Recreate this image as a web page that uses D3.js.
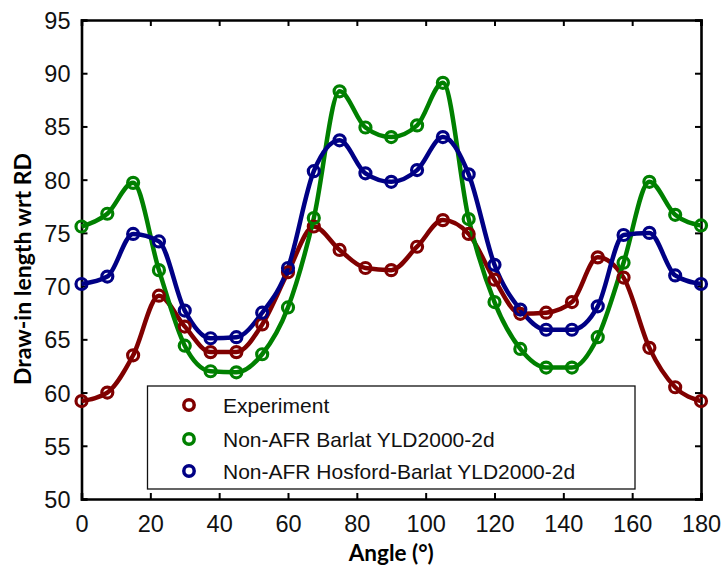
<!DOCTYPE html>
<html>
<head>
<meta charset="utf-8">
<script src="https://cdn.jsdelivr.net/npm/d3@7"></script>
<style>
  html, body { margin: 0; padding: 0; background: #fff; }
  svg { display: block; }
</style>
</head>
<body>
<svg id="chart" width="725" height="577"></svg>
<script>
// Sampling angles (degrees from rolling direction)
const angles = [0, 7.5, 15, 22.5, 30, 37.5, 45, 52.5, 60, 67.5, 75, 82.5, 90,
                97.5, 105, 112.5, 120, 127.5, 135, 142.5, 150, 157.5, 165, 172.5, 180];

const experiment = [59.2, 60.0, 63.5, 69.1, 66.2, 63.8, 63.8, 66.4, 71.3, 75.6, 73.4, 71.7, 71.5,
                    73.7, 76.2, 74.9, 70.6, 67.4, 67.5, 68.5, 72.7, 70.8, 64.2, 60.5, 59.2];
const barlat = [75.6, 76.8, 79.7, 71.5, 64.4, 62.0, 61.9, 63.6, 68.0, 76.4, 88.3, 84.9, 84.0,
                85.1, 89.1, 76.3, 68.5, 64.1, 62.35, 62.35, 65.2, 72.2, 79.8, 76.7, 75.7];
const hosford = [70.2, 70.9, 74.9, 74.2, 67.7, 65.1, 65.2, 67.5, 71.7, 80.8, 83.7, 80.6, 79.8,
                 80.9, 84.0, 80.5, 72.0, 67.8, 65.9, 65.9, 68.1, 74.8, 75.0, 71.0, 70.2];

const seriesNames = ["Experiment", "Non-AFR Barlat YLD2000-2d", "Non-AFR Hosford-Barlat YLD2000-2d"];
const seriesColors = ["#800000", "#008000", "#000085"];

const xTicks = [0, 20, 40, 60, 80, 100, 120, 140, 160, 180];
const yTicks = [50, 55, 60, 65, 70, 75, 80, 85, 90, 95];

const series = [experiment, barlat, hosford].map((vals, i) => ({
  name: seriesNames[i],
  color: seriesColors[i],
  points: angles.map((a, j) => ({ x: a, y: vals[j] }))
}));

const margin = { left: 81.5, top: 20, right: 24, bottom: 78 };
const W = 725, H = 577;
const svg = d3.select("#chart");

const x = d3.scaleLinear().domain([0, 180]).range([margin.left, W - margin.right]);
const y = d3.scaleLinear().domain([50, 95]).range([H - margin.bottom, margin.top]);

const font = "Liberation Sans, Arial, sans-serif";

// Smooth curves through the sampled points
const line = d3.line().x(d => x(d.x)).y(d => y(d.y)).curve(d3.curveMonotoneX);

const marks = svg.append("g");

series.forEach(s => {
  marks.append("path")
    .datum(s.points)
    .attr("fill", "none")
    .attr("stroke", s.color)
    .attr("stroke-width", 4.5)
    .attr("stroke-linejoin", "round")
    .attr("d", line);
});

series.forEach(s => {
  marks.append("g").selectAll("circle")
    .data(s.points)
    .join("circle")
    .attr("cx", d => x(d.x))
    .attr("cy", d => y(d.y))
    .attr("r", 5.5)
    .attr("fill", "none")
    .attr("stroke", s.color)
    .attr("stroke-width", 3.2);
});

// Axes: ticks point inward on all four sides
const tickLen = 6;
const axB = svg.append("g").attr("transform", `translate(0,${y(50)})`)
  .call(d3.axisBottom(x).tickValues(xTicks).tickSize(-tickLen).tickPadding(16));
const axT = svg.append("g").attr("transform", `translate(0,${y(95)})`)
  .call(d3.axisTop(x).tickValues(xTicks).tickSize(-tickLen).tickFormat(""));
const axL = svg.append("g").attr("transform", `translate(${x(0)},0)`)
  .call(d3.axisLeft(y).tickValues(yTicks).tickSize(-tickLen).tickPadding(11));
const axR = svg.append("g").attr("transform", `translate(${x(180)},0)`)
  .call(d3.axisRight(y).tickValues(yTicks).tickSize(-tickLen).tickFormat(""));

[axB, axT, axL, axR].forEach(g => {
  g.select(".domain").attr("stroke", "#000").attr("stroke-width", 2.6);
  g.selectAll(".tick line").attr("stroke", "#000").attr("stroke-width", 2);
  g.selectAll(".tick text").attr("fill", "#111").style("font-family", font).style("font-size", "23.5px");
});
axL.selectAll(".tick text").attr("dy", "0.36em");

// Markers stay on top of the frame at the plot edges
marks.raise();

// Axis titles
svg.append("text")
  .attr("x", (x(0) + x(180)) / 2).attr("y", 561)
  .attr("text-anchor", "middle")
  .style("font-family", "Lato, 'Open Sans', sans-serif")
  .style("font-weight", "bold")
  .style("font-size", "22.5px")
  .text("Angle (°)");

svg.append("text")
  .attr("transform", `translate(31,${269}) rotate(-90)`)
  .attr("text-anchor", "middle")
  .style("font-family", "Lato, 'Open Sans', sans-serif")
  .style("font-weight", "bold")
  .style("font-size", "23px")
  .text("Draw-in length wrt RD");

// Legend
const legend = svg.append("g");
legend.append("rect")
  .attr("x", 147.5).attr("y", 386)
  .attr("width", 487.5).attr("height", 103)
  .attr("fill", "#fff").attr("stroke", "#111").attr("stroke-width", 1.3);

const legendRowY = [405, 439, 471];
series.forEach((s, i) => {
  legend.append("circle")
    .attr("cx", 189).attr("cy", legendRowY[i]).attr("r", 5.2)
    .attr("fill", "none").attr("stroke", s.color).attr("stroke-width", 3.5);
  legend.append("text")
    .attr("x", 223).attr("y", legendRowY[i]).attr("dy", "0.36em")
    .style("font-family", font).style("font-size", "21px").attr("fill", "#111")
    .text(s.name);
});
</script>
</body>
</html>
